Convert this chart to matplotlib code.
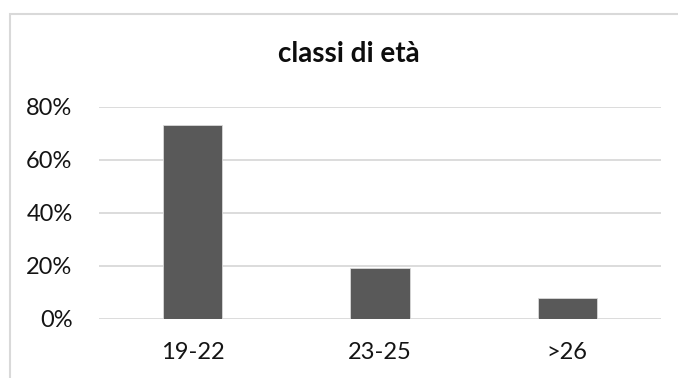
import matplotlib.pyplot as plt
from matplotlib.patches import Rectangle
from matplotlib.ticker import PercentFormatter

categories = ['19-22', '23-25', '>26']
values = [0.73, 0.19, 0.08]
yticks = [0, 0.2, 0.4, 0.6, 0.8]

plt.rcParams['font.family'] = ['Lato', 'DejaVu Sans']

fig = plt.figure(figsize=(6.78, 3.78), dpi=100)
ax = fig.add_axes([99 / 678, 1 - 318.7 / 378, 562 / 678, 212 / 378])

# chart frame (cropped at right and bottom)
fig.patches.append(Rectangle((10 / 678, -0.1), 1.2, 1 - 14 / 378 + 0.1,
                             transform=fig.transFigure, fill=False,
                             edgecolor='#d9d9d9', linewidth=1.5))

x = range(len(categories))
ax.bar(x, values, width=0.315, color='#595959', edgecolor='#d9d9d9', linewidth=0.6, zorder=3)

ax.set_xlim(-0.5, len(categories) - 0.5)
ax.set_ylim(0, 0.8)
ax.set_yticks(yticks)
ax.yaxis.set_major_formatter(PercentFormatter(1.0, decimals=0))
ax.set_xticks(list(x))
ax.set_xticklabels(categories)
ax.grid(axis='y', color='#d9d9d9', linewidth=1.3, zorder=0)
ax.tick_params(length=0, labelsize=17, colors='#141414')
ax.tick_params(axis='y', pad=19)
ax.tick_params(axis='x', pad=17)
for s in ax.spines.values():
    s.set_visible(False)

fig.text(349 / 678, 1 - 54 / 378, 'classi di età', ha='center', va='center',
         fontsize=20, fontweight='bold', color='#0d0d0d')

fig.savefig('out.png', dpi=100)
